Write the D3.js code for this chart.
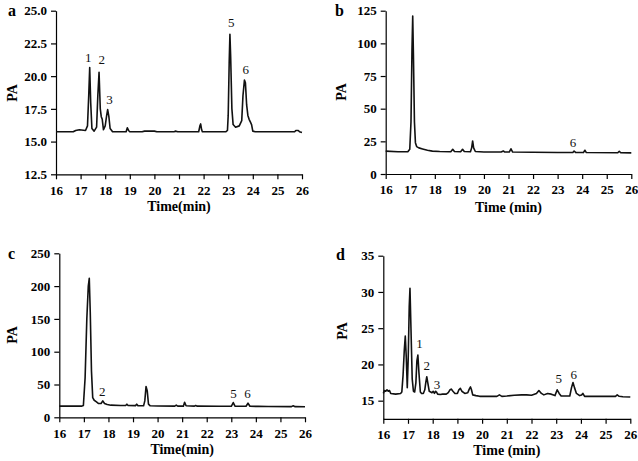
<!DOCTYPE html>
<html><head><meta charset="utf-8">
<script src="https://cdn.jsdelivr.net/npm/d3@7"></script>
<style>body{margin:0;background:#fff}svg{display:block}text{font-family:"Liberation Serif","Times New Roman",serif}</style>
</head><body><svg id="c" width="638" height="461"></svg>
<script>
// ---------- DATA ----------
const panelNames = ["a","b","c","d"];
const xTicks = [16,17,18,19,20,21,22,23,24,25,26];

const aTime = [16.0,16.7,16.8,16.95,17.2,17.28,17.33,17.37,17.41,17.46,17.55,17.65,17.7,17.75,17.8,17.84,17.88,17.93,18.0,18.06,18.1,18.15,18.2,18.3,18.85,18.9,18.95,19.0,19.5,19.6,20.0,20.1,20.8,20.85,20.95,21.8,21.85,21.88,21.92,21.95,22.9,22.97,23.0,23.04,23.07,23.1,23.15,23.2,23.3,23.45,23.55,23.6,23.66,23.7,23.75,23.8,23.85,23.9,23.95,24.0,24.1,25.7,25.75,25.85,25.9,26.0];
const aPA = [15.75,15.75,15.85,15.9,15.85,16.2,18.5,20.65,18.0,16.0,15.8,16.1,18.5,20.3,17.5,16.9,16.7,15.9,16.2,17.0,17.45,16.9,16.0,15.75,15.75,16.05,15.85,15.75,15.75,15.8,15.8,15.75,15.75,15.8,15.75,15.75,16.2,16.35,15.9,15.75,15.75,15.85,17.0,21.0,23.2,21.5,17.5,16.3,16.1,16.2,16.6,18.5,19.7,19.5,17.8,17.0,16.7,16.5,16.3,15.8,15.75,15.75,15.85,15.85,15.75,15.7];
const aYTicks = [12.5,15.0,17.5,20.0,22.5,25.0];
const aPeakText = ["1","2","3","5","6"];
const aPeakTime = [17.31,17.86,18.17,23.12,23.71];
const aPeakPA = [21.39,21.3,18.25,24.08,20.52];

const bTime = [16.0,16.5,16.9,16.98,17.03,17.07,17.1,17.13,17.17,17.21,17.26,17.35,17.5,17.7,17.9,18.2,18.65,18.73,18.8,19.05,19.13,19.2,19.45,19.5,19.54,19.58,19.65,20.0,20.7,20.79,20.85,21.03,21.1,21.17,22.0,23.0,23.62,23.67,23.73,24.05,24.11,24.17,25.45,25.51,25.57,26.0];
const bPA = [17.5,17.0,17.0,19,40,95,121,90,40,24,21,20,19.2,18.2,17.5,17.2,17.0,18.9,17.2,17.0,18.9,17.2,17.0,20,25.3,20,17.2,16.8,16.8,17.6,16.8,16.8,19.3,16.8,16.6,16.5,16.5,17.6,16.5,16.4,18.2,16.4,16.3,17.4,16.3,16.2];
const bYTicks = [0,25,50,75,100,125];
const bPeakText = ["6"];
const bPeakTime = [23.63];
const bPeakPA = [24];

const cTime = [16.0,16.9,16.98,17.05,17.12,17.18,17.22,17.26,17.31,17.36,17.42,17.5,17.6,17.7,17.77,17.84,17.95,18.1,18.5,18.7,18.75,18.8,19.1,19.15,19.2,19.43,19.48,19.53,19.58,19.63,19.7,20.0,20.7,20.76,20.82,21.05,21.1,21.16,21.5,21.55,21.6,22.5,23.0,23.08,23.15,23.6,23.68,23.76,24.1,24.5,25.45,25.52,25.6,26.0];
const cPA = [17,17,18,60,150,200,212,160,70,30,26,24,21,21,25,21,19.5,18.5,18,18,20,18,17.8,20,17.8,17.5,25,47,40,20,17.5,17.2,17.0,18.5,17.0,17.0,23,17.5,17.0,18,17.0,16.8,16.8,22.5,17,16.8,21.5,16.8,16.6,16.5,16.3,17.5,16.2,16.0];
const cYTicks = [0,50,100,150,200,250];
const cPeakText = ["2","5","6"];
const cPeakTime = [17.75,23.09,23.66];
const cPeakPA = [39,36.6,36.6];

const dTime = [16.0,16.05,16.1,16.15,16.2,16.25,16.3,16.5,16.7,16.75,16.8,16.85,16.89,16.93,16.97,17.01,17.05,17.08,17.12,17.17,17.22,17.27,17.32,17.36,17.4,17.44,17.5,17.55,17.62,17.68,17.72,17.76,17.8,17.86,17.92,17.97,18.02,18.07,18.12,18.15,18.2,18.3,18.4,18.55,18.63,18.7,18.75,18.82,18.9,19.0,19.06,19.12,19.18,19.3,19.42,19.48,19.53,19.57,19.62,19.75,19.9,20.6,20.7,20.8,21.0,21.3,21.6,21.8,22.0,22.2,22.3,22.4,22.5,22.65,22.8,22.95,23.04,23.12,23.2,23.55,23.62,23.68,23.74,23.82,23.95,24.03,24.08,24.15,24.3,25.4,25.47,25.55,25.7,26.0];
const dPA = [16.0,16.4,16.3,16.5,16.3,16.4,16.0,15.9,16.0,16.2,18.5,22,23.9,21,16.8,21,28,30.5,25,18,16.3,16.2,17.5,20.5,21.3,19,16.2,16.0,16.0,16.5,17.5,18.3,17.5,16.3,16.2,16.1,16.3,16.0,16.3,16.2,15.9,15.85,15.9,15.9,16.1,16.5,16.6,16.3,16.0,16.0,16.5,16.7,16.3,16.0,16.1,16.6,16.9,16.5,15.8,15.7,15.6,15.6,15.8,15.6,15.65,15.75,15.8,15.8,15.75,16.0,16.4,16.0,15.8,16.0,15.9,15.7,16.5,16.0,15.65,15.65,16.8,17.5,16.8,16.0,15.7,15.8,16.0,15.6,15.6,15.6,15.8,15.6,15.55,15.5];
const dYTicks = [15,20,25,30,35];
const dPeakText = ["1","2","3","5","6"];
const dPeakTime = [17.47,17.76,18.17,23.1,23.71];
const dPeakPA = [22.9,19.9,17.2,18.0,18.6];

const xTitles = ["Time(min)","Time (min)","Time(min)","Time (min)"];

// ---------- LAYOUT ----------
const frames = [
  {x0:56, x1:302, yTop:10.7, yBot:174.3, yDom:[12.5,25], fmt:d3.format(".1f"), lx:8, ly:16, pax:12, pay:93, tty:211},
  {x0:385.7, x1:631.3, yTop:10.7, yBot:174, yDom:[0,125], fmt:d3.format("d"), lx:335, ly:16, pax:341, pay:92, tty:212},
  {x0:59.3, x1:305, yTop:253.3, yBot:417.3, yDom:[0,250], fmt:d3.format("d"), lx:8, ly:259, pax:12, pay:335, tty:454},
  {x0:383.3, x1:630.3, yTop:255.7, yBot:418.8, yDom:[12.5,35], fmt:d3.format("d"), lx:336, ly:260, pax:342, pay:331, tty:455}
];
const series = [
  {t:aTime, v:aPA, ticks:aYTicks, lt:aPeakText, lx:aPeakTime, ly:aPeakPA},
  {t:bTime, v:bPA, ticks:bYTicks, lt:bPeakText, lx:bPeakTime, ly:bPeakPA},
  {t:cTime, v:cPA, ticks:cYTicks, lt:cPeakText, lx:cPeakTime, ly:cPeakPA},
  {t:dTime, v:dPA, ticks:dYTicks, lt:dPeakText, lx:dPeakTime, ly:dPeakPA}
];

const svg = d3.select("#c");
frames.forEach((f,i)=>{
  const s = series[i];
  const x = d3.scaleLinear().domain([16,26]).range([f.x0,f.x1]);
  const yTopVal = f.yDom[1];
  const y = d3.scaleLinear().domain(f.yDom).range([f.yBot,f.yTop]);
  const g = svg.append("g");

  const xa = g.append("g").attr("transform",`translate(0,${f.yBot})`)
    .call(d3.axisBottom(x).tickValues(xTicks).tickFormat(d3.format("d")).tickSizeOuter(0).tickSizeInner(5).tickPadding(6));
  const ya = g.append("g").attr("transform",`translate(${f.x0},0)`)
    .call(d3.axisLeft(y).tickValues(s.ticks).tickFormat(f.fmt).tickSizeOuter(0).tickSizeInner(5).tickPadding(4));
  [xa,ya].forEach(a=>{
    a.select(".domain").attr("stroke","#000").attr("stroke-width",1.2);
    a.selectAll(".tick line").attr("stroke","#000").attr("stroke-width",1.2);
    a.selectAll(".tick text").attr("fill","#000").style("font-size","13px").style("font-weight","bold")
     .style("font-family",'"Liberation Serif",serif');
  });

  const line = d3.line().x(d=>x(d[0])).y(d=>y(d[1]));
  g.append("path").datum(d3.zip(s.t,s.v)).attr("d",line)
    .attr("fill","none").attr("stroke","#111").attr("stroke-width",1.6).attr("stroke-linejoin","round");

  g.selectAll("text.pk").data(d3.zip(s.lt,s.lx,s.ly)).join("text").attr("class","pk")
    .attr("x",d=>x(d[1])).attr("y",d=>y(d[2])).attr("dy","0.35em").attr("text-anchor","middle")
    .style("font-size","13px").attr("fill","#111").text(d=>d[0]);

  g.append("text").attr("x",f.lx).attr("y",f.ly).style("font-size","16px").style("font-weight","bold").text(panelNames[i]);
  g.append("text").attr("transform",`translate(${f.pax+5},${f.pay}) rotate(-90)`).attr("text-anchor","middle")
    .style("font-size","14px").style("font-weight","bold").text("PA");
  g.append("text").attr("x",(f.x0+f.x1)/2).attr("y",f.tty).attr("text-anchor","middle")
    .style("font-size","14px").style("font-weight","bold").text(xTitles[i]);
});
</script></body></html>
